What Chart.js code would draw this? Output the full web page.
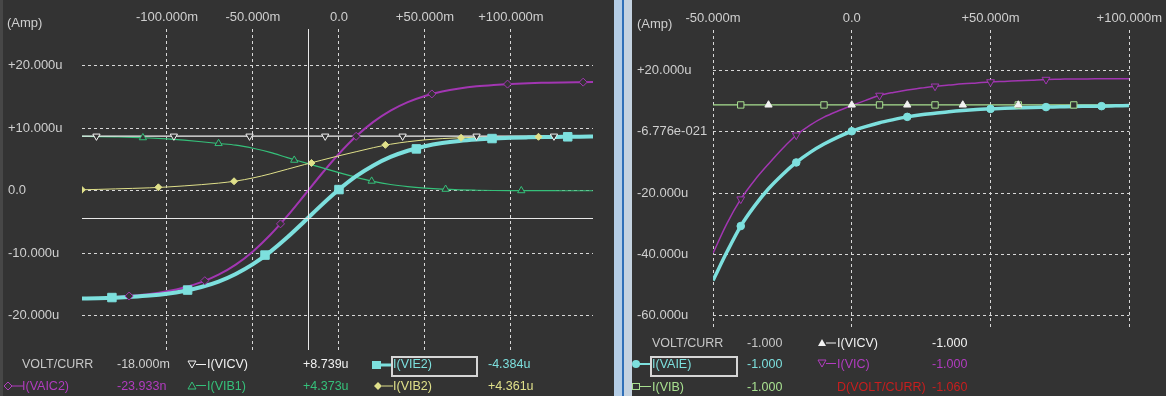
<!DOCTYPE html>
<html>
<head>
<meta charset="utf-8">
<script src="https://cdn.jsdelivr.net/npm/chart.js@4.4.1/dist/chart.umd.min.js"></script>
<style>
  html, body { margin: 0; padding: 0; background: #333; }
  body { width: 1166px; height: 396px; position: relative; overflow: hidden;
         font-family: "Liberation Sans", Arial, sans-serif; font-size: 12.5px; color: #cfcfcf; }
  canvas { position: absolute; top: 0; }
  #left { left: 0; }
  #right { left: 632px; }
  .t { position: absolute; white-space: nowrap; line-height: 16px; }
  .box { position: absolute; border: 2px solid #d6d6d6; box-sizing: border-box; }
  .bar { position: absolute; top: 0; height: 396px; }
  svg { position: absolute; overflow: visible; }
</style>
</head>
<body>
<canvas id="left" width="614" height="396"></canvas>
<canvas id="right" width="534" height="396"></canvas>

<div class="bar" style="left:0;width:3px;background:#474747"></div>
<div class="bar" style="left:614px;width:8px;background:#b4cde6"></div>
<div class="bar" style="left:622px;width:2px;background:#2f6fb8"></div>
<div class="bar" style="left:624px;width:8px;background:#c4d2e0"></div>

<div class="t" style="left:7px;top:15px;font-size:13px">(Amp)</div>
<div class="t" style="left:637px;top:16px;font-size:13px">(Amp)</div>

<!-- left legend -->
<div class="t" style="left:22px;top:356px;color:#c8c8c8">VOLT/CURR</div>
<div class="t" style="left:117px;top:356px;color:#d0d0d0">-18.000m</div>
<svg style="left:186px;top:360px" width="20" height="10"><path d="M2 1 L10 1 L6 8 Z" fill="none" stroke="#f2f2f2"/><line x1="10" y1="4.5" x2="20" y2="4.5" stroke="#f2f2f2"/></svg>
<div class="t" style="left:207px;top:356px;color:#f2f2f2">I(VICV)</div>
<div class="t" style="left:303px;top:356px;color:#f2f2f2">+8.739u</div>
<svg style="left:372px;top:360px" width="20" height="10"><rect x="0" y="1" width="9" height="8" fill="#7de0de"/><line x1="9" y1="5" x2="20" y2="5" stroke="#7de0de" stroke-width="3"/></svg>
<div class="box" style="left:391px;top:356px;width:87px;height:21px"></div>
<div class="t" style="left:393px;top:356px;color:#7de0de">I(VIE2)</div>
<div class="t" style="left:488px;top:356px;color:#7de0de">-4.384u</div>

<svg style="left:3px;top:381px" width="20" height="10"><path d="M1 5 L5 1 L9 5 L5 9 Z" fill="none" stroke="#b23cc0"/><line x1="9" y1="5" x2="20" y2="5" stroke="#b23cc0"/></svg>
<div class="t" style="left:22px;top:378px;color:#b23cc0">I(VAIC2)</div>
<div class="t" style="left:117px;top:378px;color:#b23cc0">-23.933n</div>
<svg style="left:186px;top:381px" width="20" height="10"><path d="M2 8 L10 8 L6 1 Z" fill="none" stroke="#35c07a"/><line x1="10" y1="4.5" x2="20" y2="4.5" stroke="#35c07a"/></svg>
<div class="t" style="left:207px;top:378px;color:#35c07a">I(VIB1)</div>
<div class="t" style="left:303px;top:378px;color:#35c07a">+4.373u</div>
<svg style="left:374px;top:381px" width="20" height="10"><path d="M0 5 L4 1 L8 5 L4 9 Z" fill="#e0e08a"/><line x1="8" y1="5" x2="19" y2="5" stroke="#e0e08a"/></svg>
<div class="t" style="left:393px;top:378px;color:#e0e08a">I(VIB2)</div>
<div class="t" style="left:488px;top:378px;color:#e0e08a">+4.361u</div>

<!-- right legend -->
<div class="t" style="left:652px;top:335px;color:#c8c8c8">VOLT/CURR</div>
<div class="t" style="left:747px;top:335px;color:#c8c8c8">-1.000</div>
<svg style="left:817px;top:338px" width="20" height="10"><path d="M1 8 L9 8 L5 1 Z" fill="#f2f2f2"/><line x1="9" y1="5" x2="19" y2="5" stroke="#f2f2f2"/></svg>
<div class="t" style="left:837px;top:335px;color:#f2f2f2">I(VICV)</div>
<div class="t" style="left:932px;top:335px;color:#f2f2f2">-1.000</div>

<svg style="left:631px;top:359px" width="20" height="10"><circle cx="5" cy="5" r="4" fill="#7de0de"/><line x1="8" y1="5" x2="20" y2="5" stroke="#7de0de" stroke-width="2"/></svg>
<div class="box" style="left:650px;top:356px;width:88px;height:21px"></div>
<div class="t" style="left:652px;top:356px;color:#7de0de">I(VAIE)</div>
<div class="t" style="left:747px;top:356px;color:#7de0de">-1.000</div>
<svg style="left:817px;top:359px" width="20" height="10"><path d="M1 1 L9 1 L5 8 Z" fill="none" stroke="#b23cc0"/><line x1="9" y1="4.5" x2="19" y2="4.5" stroke="#b23cc0"/></svg>
<div class="t" style="left:837px;top:356px;color:#b23cc0">I(VIC)</div>
<div class="t" style="left:932px;top:356px;color:#b23cc0">-1.000</div>

<svg style="left:632px;top:382px" width="20" height="10"><rect x="0.5" y="1.5" width="7" height="6" fill="none" stroke="#a8e090"/><line x1="8" y1="4.5" x2="19" y2="4.5" stroke="#a8e090"/></svg>
<div class="t" style="left:652px;top:379px;color:#a8e090">I(VIB)</div>
<div class="t" style="left:747px;top:379px;color:#a8e090">-1.000</div>
<div class="t" style="left:837px;top:379px;color:#c81e1e">D(VOLT/CURR)</div>
<div class="t" style="left:932px;top:379px;color:#c81e1e">-1.060</div>

<script>
// ---- left panel (x in mV, y in uA) ----
const xLeft = [-150, -140, -130, -120, -110, -100, -90, -80, -70, -60, -50, -40, -30, -20, -10,
               0, 10, 20, 30, 40, 50, 60, 70, 80, 90, 100, 110, 120, 130, 140, 148]
const vie2 = [-17.27, -17.21, -17.12, -16.98, -16.78, -16.48, -16.04, -15.42, -14.55, -13.33, -11.76, -9.78, -7.45, -4.88, -2.26,
              0.19, 2.33, 4.05, 5.41, 6.40, 7.13, 7.63, 7.97, 8.20, 8.36, 8.48, 8.55, 8.60, 8.63, 8.66, 8.67]
const vaic2 = [-17.25, -17.16, -17.03, -16.82, -16.53, -16.10, -15.49, -14.63, -13.43, -11.82, -9.71, -7.09, -4.03, -0.68, 2.72,
               5.92, 8.72, 11.03, 12.83, 14.19, 15.18, 15.88, 16.37, 16.72, 16.95, 17.11, 17.22, 17.29, 17.35, 17.38, 17.40]
const vib2 = [0.15, 0.22, 0.30, 0.38, 0.47, 0.60, 0.78, 0.98, 1.22, 1.55, 2.05, 2.70, 3.45, 4.20, 4.90,
              5.60, 6.25, 6.90, 7.45, 7.85, 8.15, 8.35, 8.48, 8.56, 8.60, 8.63, 8.64, 8.66, 8.67, 8.68, 8.68]
const vib1 = [8.72, 8.68, 8.62, 8.55, 8.45, 8.30, 8.10, 7.85, 7.57, 7.30, 6.80, 6.15, 5.30, 4.50, 3.70,
              2.90, 2.15, 1.50, 1.00, 0.66, 0.42, 0.25, 0.14, 0.08, 0.04, 0.02, 0.01, 0.01, 0.00, 0.00, 0.00]
const vicvX = [-150, 148]
const vicvY = [8.739, 8.739]

// marker positions
const vie2MarkX = [-132, -88, -43, 0, 45, 89, 133]
const vie2MarkY = [-17.1, -15.9, -10.3, 0.19, 6.7, 8.36, 8.64]
const vaic2MarkX = [-122, -78, -34, 10, 54, 98, 142]
const vaic2MarkY = [-16.86, -14.4, -5.3, 8.72, 15.5, 17.08, 17.39]
const vicvMarkX = [-141, -96, -52, -8, 37, 80, 125]
const vicvMarkY = [8.739, 8.739, 8.739, 8.739, 8.739, 8.739, 8.739]
const vib1MarkX = [-114, -70, -26, 19, 62, 106]
const vib1MarkY = [8.5, 7.57, 4.9, 1.55, 0.25, 0.02]
const vib2MarkX = [-149.5, -105, -61, -16, 27, 71, 116]
const vib2MarkY = [0.15, 0.55, 1.52, 4.45, 7.35, 8.48, 8.64]

const cursorX = -18
const cursorY = -4.384

const xTicksLeft = [-100, -50, 0, 50, 100]
const yTicksLeft = [20, 10, 0, -10, -20]

// ---- right panel ----
const xRight = [-50, -45, -40, -35, -30, -25, -20, -15, -10, -5,
                0, 5, 10, 15, 20, 25, 30, 35, 40, 45, 50, 55, 60, 65, 70, 75, 80, 85, 90, 95, 100]
const vaie = [-48.6, -39.3, -30.8, -24.2, -18.6, -14.0, -10.0, -6.7, -4.0, -1.7,
              0.2, 1.7, 3.0, 4.0, 4.9, 5.6, 6.1, 6.6, 7.0, 7.3, 7.5, 7.7, 7.85, 8.0, 8.1, 8.2, 8.3, 8.35, 8.4, 8.5, 8.6]
const vic = [-39.7, -30.0, -22.0, -15.8, -10.5, -5.5, -1.1, 2.2, 4.8, 6.8,
             8.6, 10.3, 11.9, 12.9, 13.7, 14.3, 14.9, 15.3, 15.7, 16.0, 16.3, 16.5, 16.7, 16.9, 17.1, 17.2, 17.3, 17.3, 17.4, 17.4, 17.4]
const vibRX = [-50, 100]
const vibRY = [8.8, 8.8]

const vaieMarkX = [-40, -20, 0, 20, 50, 70, 90]
const vicMarkX = [-40, -20, 10, 30, 50, 70]
const vibRMarkX = [-40, -10, 10, 30, 60, 80]
const vicvRMarkX = [-30, 0, 20, 40, 60]

const xTicksRight = [-50, 0, 50, 100]
const yTicksRight = [20, 0, -20, -40, -60]

const BG = '#333333'
const CYAN = '#7de0de'
const MAG = '#a236b2'
const GREEN = '#35c07a'
const YELLOW = '#e0e08a'
const WHITE = '#f2f2f2'
const LGREEN = '#a8e090'

const pts = (xs, ys) => xs.map((x, i) => ({ x: x, y: ys[i] }))
const lookup = (xs, ys, marks) => marks.map(m => ({ x: m, y: ys[xs.indexOf(m)] }))

function lineSet(data, color, width) {
    return { data: data, borderColor: color, borderWidth: width, pointRadius: 0,
             cubicInterpolationMode: 'monotone', fill: false }
}
function markSet(data, color, style, r, filled, rot) {
    return { data: data, showLine: false, pointStyle: style, pointRadius: r,
             pointRotation: rot || 0, pointBorderColor: color, pointBorderWidth: 1,
             pointBackgroundColor: filled ? color : BG }
}

const fmtX = v => v === 0 ? '0.0' : (v > 0 ? '+' : '') + v.toFixed(3) + 'm'
const fmtYL = v => v === 0 ? '0.0' : (v > 0 ? '+' : '') + v.toFixed(3) + 'u'
const fmtYR = v => v === 0 ? '-6.776e-021' : (v > 0 ? '+' : '') + v.toFixed(3) + 'u'

function makeOptions(o) {
    const font = { family: '"Liberation Sans", Arial, sans-serif', size: 13 }
    const grid = { color: '#d8d8d8', lineWidth: 1, drawTicks: false }
    const border = { display: false, dash: [3, 3] }
    return {
        animation: false, responsive: false, maintainAspectRatio: false,
        layout: { padding: { left: o.padL, right: o.padR, top: 0, bottom: o.padB }, autoPadding: false },
        plugins: { legend: { display: false }, tooltip: { enabled: false } },
        scales: {
            x: { type: 'linear', position: 'top', min: o.xMin, max: o.xMax,
                 afterBuildTicks: s => { s.ticks = o.xTicks.map(v => ({ value: v })) },
                 afterFit: s => { s.height = o.top },
                 grid: grid, border: border,
                 ticks: { color: '#cfcfcf', font: font, padding: 4, maxRotation: 0, autoSkip: false, callback: o.fmtX } },
            y: { min: o.yMin, max: o.yMax,
                 afterBuildTicks: s => { s.ticks = o.yTicks.map(v => ({ value: v })) },
                 afterFit: s => { s.width = o.yW },
                 grid: grid, border: border,
                 ticks: { color: '#cfcfcf', font: font, crossAlign: 'far', padding: 0, autoSkip: false, callback: o.fmtY } }
        }
    }
}

const cursorPlugin = {
    id: 'cursor',
    afterDatasetsDraw(chart) {
        const { ctx, chartArea: a, scales } = chart
        const px = Math.round(scales.x.getPixelForValue(cursorX)) + 0.5
        const py = Math.round(scales.y.getPixelForValue(cursorY)) + 0.5
        ctx.save()
        ctx.strokeStyle = '#e8e8e8'
        ctx.lineWidth = 1
        ctx.beginPath()
        ctx.moveTo(px, a.top); ctx.lineTo(px, a.bottom)
        ctx.moveTo(a.left, py); ctx.lineTo(a.right, py)
        ctx.stroke()
        ctx.restore()
    }
}

new Chart(document.getElementById('left'), {
    type: 'line',
    data: {
        datasets: [
            markSet(pts(vie2MarkX, vie2MarkY), CYAN, 'rect', 6, true),
            markSet(pts(vib2MarkX, vib2MarkY), YELLOW, 'rectRot', 3.5, true),
            markSet(pts(vicvMarkX, vicvMarkY), WHITE, 'triangle', 4.2, false, 180),
            markSet(pts(vib1MarkX, vib1MarkY), GREEN, 'triangle', 4.2, false),
            markSet(pts(vaic2MarkX, vaic2MarkY), MAG, 'rectRot', 4, false),
            lineSet(pts(xLeft, vie2), CYAN, 4),
            lineSet(pts(vicvX, vicvY), WHITE, 1.2),
            lineSet(pts(xLeft, vib2), YELLOW, 1),
            lineSet(pts(xLeft, vib1), GREEN, 1.2),
            lineSet(pts(xLeft, vaic2), MAG, 2)
        ]
    },
    options: makeOptions({ xMin: -149.4, xMax: 147.7, yMin: -25.5, yMax: 25.9,
        xTicks: xTicksLeft, yTicks: yTicksLeft, fmtX: fmtX, fmtY: fmtYL,
        padL: 8, padR: 21, padB: 46, top: 29, yW: 74 }),
    plugins: [cursorPlugin]
})

new Chart(document.getElementById('right'), {
    type: 'line',
    data: {
        datasets: [
            markSet(lookup(xRight, vaie, vaieMarkX), CYAN, 'circle', 3.8, true),
            markSet(vicvRMarkX.map(x => ({ x: x, y: vibRY[0] })), WHITE, 'triangle', 4.2, true),
            markSet(vibRMarkX.map(x => ({ x: x, y: vibRY[0] })), LGREEN, 'rect', 4.5, false),
            markSet(lookup(xRight, vic, vicMarkX), MAG, 'triangle', 4.5, false, 180),
            lineSet(pts(xRight, vaie), CYAN, 3.5),
            lineSet(pts(vibRX, vibRY), LGREEN, 1.2),
            lineSet(pts(xRight, vic), MAG, 1.5)
        ]
    },
    options: makeOptions({ xMin: -50, xMax: 100, yMin: -63.8, yMax: 33.3,
        xTicks: xTicksRight, yTicks: yTicksRight, fmtX: fmtX, fmtY: fmtYR,
        padL: 5, padR: 19, padB: 69, top: 30, yW: 76 })
})
</script>
</body>
</html>
